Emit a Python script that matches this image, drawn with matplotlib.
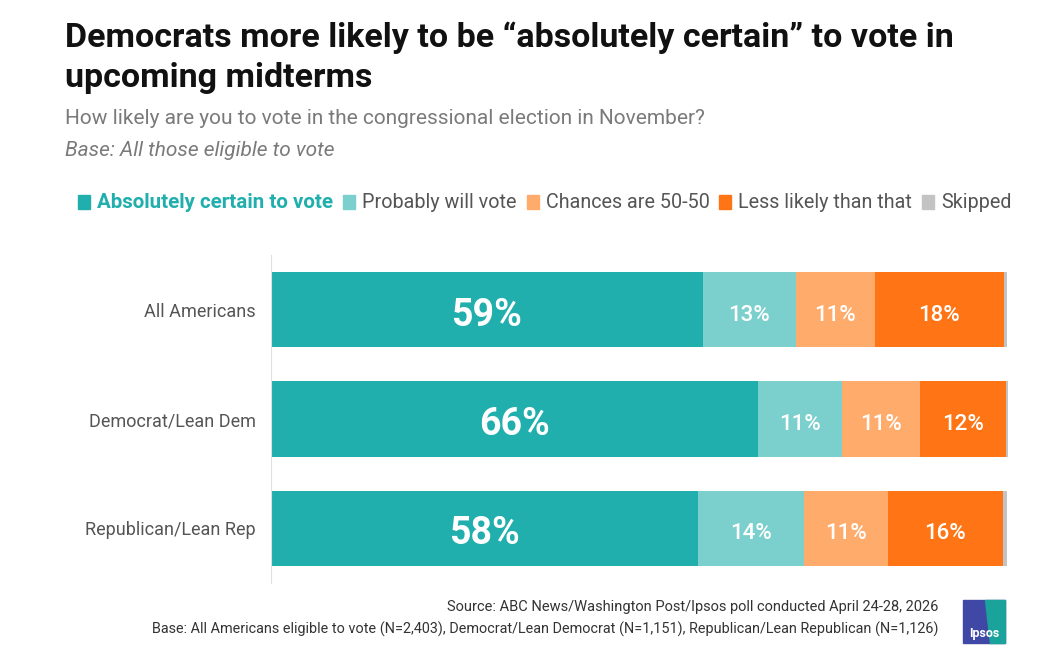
import matplotlib.pyplot as plt
from matplotlib.patches import Rectangle, Polygon

plt.rcParams['font.family'] = ['Roboto', 'DejaVu Sans']

groups = ["All Americans", "Democrat/Lean Dem", "Republican/Lean Rep"]
series = ["Absolutely certain to vote", "Probably will vote", "Chances are 50-50",
          "Less likely than that", "Skipped"]
colors = ["#20AFAD", "#7BD0CD", "#FFAB6B", "#FF7515", "#C3C3C3"]

certain = [58.6, 66.1, 57.9]
probably = [12.6, 11.4, 14.4]
chances = [10.7, 10.6, 11.4]
less_likely = [17.6, 11.6, 15.6]
skipped = [0.4, 0.3, 0.5]

certain_lbl = ["59%", "66%", "58%"]
probably_lbl = ["13%", "11%", "14%"]
chances_lbl = ["11%", "11%", "11%"]
less_lbl = ["18%", "12%", "16%"]

W, H = 1042, 668
fig = plt.figure(figsize=(W / 100, H / 100), dpi=100)

# title block
fig.text(65 / W, 1 - 38 / H, "Democrats more likely to be \u201cabsolutely certain\u201d to vote in",
         fontsize=24.5, fontweight='bold', color='#111111', va='center', ha='left')
fig.text(65 / W, 1 - 78 / H, "upcoming midterms",
         fontsize=24.5, fontweight='bold', color='#111111', va='center', ha='left')
fig.text(65 / W, 1 - 119 / H, "How likely are you to vote in the congressional election in November?",
         fontsize=15, color='#7a7a7a', va='center', ha='left')
fig.text(65 / W, 1 - 150 / H, "Base: All those eligible to vote",
         fontsize=15, color='#7a7a7a', style='italic', va='center', ha='left')

# legend row
r = fig.canvas.get_renderer()
x = 78
for i, name in enumerate(series):
    fig.patches.append(Rectangle((x / W, 1 - 209 / H), 12 / W, 14 / H,
                                 transform=fig.transFigure, color=colors[i]))
    t = fig.text((x + 19) / W, 1 - 202 / H, name, fontsize=14.8 if i == 0 else 14.2,
                 fontweight='bold' if i == 0 else 'normal',
                 color=colors[0] if i == 0 else '#555555', va='center', ha='left')
    bb = t.get_window_extent(renderer=r)
    x = bb.x1 + 10

ax = fig.add_axes([271 / W, 1 - 583 / H, 737 / W, 328 / H])
ax.set_xlim(0, 100)
ax.set_ylim(2.5, -0.5)

ypos = list(range(len(groups)))
left = [0, 0, 0]
all_vals = [certain, probably, chances, less_likely, skipped]
all_lbls = [certain_lbl, probably_lbl, chances_lbl, less_lbl, None]
for k, vals in enumerate(all_vals):
    ax.barh(ypos, vals, left=left, height=0.69, color=colors[k], edgecolor='none')
    if all_lbls[k] is not None:
        for j in ypos:
            ax.text(left[j] + vals[j] / 2, j + 0.05, all_lbls[k][j], color='white',
                    ha='center', va='center',
                    fontsize=27 if k == 0 else 16,
                    fontweight='bold' if k == 0 else 'medium')
    left = [a + b for a, b in zip(left, vals)]

ax.set_yticks(ypos)
ax.set_yticklabels(groups, fontsize=13, color='#555555')
ax.tick_params(axis='y', length=0, pad=11)
ax.set_xticks([])
for s in ['top', 'right', 'bottom']:
    ax.spines[s].set_visible(False)
ax.spines['left'].set_color('#e0e0e0')

# source
fig.text(938 / W, 1 - 607 / H, "Source: ABC News/Washington Post/Ipsos poll conducted April 24-28, 2026",
         fontsize=10.5, color='#333333', ha='right', va='center')
fig.text(938 / W, 1 - 629 / H,
         "Base: All Americans eligible to vote (N=2,403), Democrat/Lean Democrat (N=1,151), "
         "Republican/Lean Republican (N=1,126)",
         fontsize=10.4, color='#333333', ha='right', va='center')

# logo
fig.patches.append(Rectangle((963 / W, 1 - 643 / H), 42 / W, 43 / H,
                             transform=fig.transFigure, color='#3F48A5'))
fig.patches.append(Polygon([(985 / W, 1 - 600 / H), (1005 / W, 1 - 600 / H),
                            (1005 / W, 1 - 643 / H), (990 / W, 1 - 643 / H)],
                           closed=True, transform=fig.transFigure, color='#1AA39A'))
fig.text(984 / W, 1 - 633 / H, "Ipsos", fontsize=9, fontweight='bold', color='white',
         ha='center', va='center')

fig.savefig("out.png", dpi=100)
